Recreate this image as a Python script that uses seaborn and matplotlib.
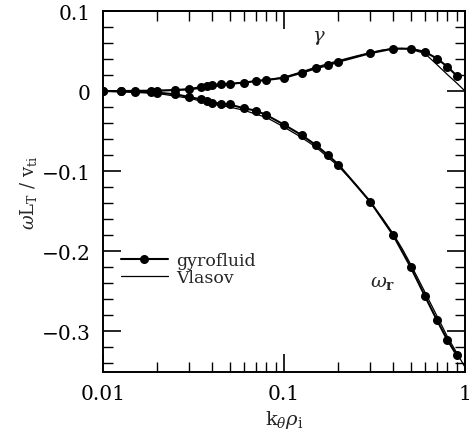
import matplotlib
matplotlib.use("Agg")
import matplotlib.pyplot as plt
import matplotlib.ticker as mticker
import numpy as np
import pandas as pd
import seaborn as sns

# Gyrofluid results (sampled wavenumbers)
k_gf = [0.01, 0.0125, 0.015, 0.0185, 0.02, 0.025, 0.03, 0.035, 0.0375, 0.04,
        0.045, 0.05, 0.06, 0.07, 0.08, 0.1, 0.125, 0.15, 0.175, 0.2,
        0.3, 0.4, 0.5, 0.6, 0.7, 0.8, 0.9]
gamma_gf = [0.0, 0.0, 0.0002, 0.0005, 0.0006, 0.0012, 0.0025, 0.005, 0.0063, 0.0075,
            0.0084, 0.0091, 0.0105, 0.0125, 0.0138, 0.0165, 0.0227, 0.0284, 0.0323, 0.0366,
            0.0473, 0.0529, 0.0529, 0.049, 0.0406, 0.0304, 0.0191]
omega_gf = [0.0, -0.0003, -0.0008, -0.0015, -0.002, -0.004, -0.0075, -0.0105, -0.013, -0.0145,
            -0.0158, -0.0168, -0.0215, -0.0245, -0.030, -0.042, -0.055, -0.0675, -0.080, -0.092,
            -0.1384, -0.1796, -0.2196, -0.2559, -0.2863, -0.3113, -0.330]

# Vlasov (kinetic) results
k_vl = [0.01, 0.02, 0.03, 0.04, 0.05, 0.06, 0.08, 0.1, 0.125, 0.15, 0.2, 0.25,
        0.3, 0.35, 0.4, 0.45, 0.5, 0.6, 0.7, 0.8, 0.9, 1.0]
gamma_vl = [0.0, 0.0003, 0.0018, 0.005, 0.0085, 0.0107, 0.0140, 0.0172, 0.0240, 0.0298,
            0.0380, 0.0437, 0.0480, 0.0513, 0.0530, 0.0533, 0.0522, 0.047, 0.033, 0.0205,
            0.010, 0.0]
omega_vl = [0.0, -0.003, -0.009, -0.016, -0.020, -0.024, -0.033, -0.045, -0.058, -0.070,
            -0.094, -0.117, -0.139, -0.159, -0.178, -0.197, -0.216, -0.251, -0.281, -0.307,
            -0.327, -0.345]

x_ticks = [0.01, 0.1, 1]
x_tick_labels = ["0.01", "0.1", "1"]
y_ticks = [-0.3, -0.2, -0.1, 0, 0.1]
y_tick_labels = ["\u22120.3", "\u22120.2", "\u22120.1", "0", "0.1"]

sns.set_theme(style="ticks")
plt.rcParams["font.family"] = ["DejaVu Serif"]
plt.rcParams["mathtext.fontset"] = "dejavuserif"

fig = plt.figure(figsize=(4.71, 4.39), dpi=100)
ax = fig.add_axes([103 / 471, 1 - 373 / 439, 362 / 471, 361 / 439])

gf = pd.DataFrame({"k": k_gf, "gamma": gamma_gf, "omega": omega_gf})
vl = pd.DataFrame({"k": k_vl, "gamma": gamma_vl, "omega": omega_vl})

for col in ["gamma", "omega"]:
    sns.lineplot(data=gf, x="k", y=col, ax=ax, color="black", lw=1.5,
                 marker="o", markersize=6.5, markeredgewidth=0, estimator=None,
                 sort=False, label="gyrofluid" if col == "gamma" else None)
    sns.lineplot(data=vl, x="k", y=col, ax=ax, color="black", lw=0.9,
                 estimator=None, sort=False,
                 label="Vlasov" if col == "gamma" else None)

ax.set_xscale("log")
ax.set_xlim(0.01, 1)
ax.set_ylim(-0.351, 0.1)
ax.set_xticks(x_ticks)
ax.set_xticklabels(x_tick_labels)
ax.xaxis.set_minor_locator(mticker.LogLocator(base=10, subs=np.arange(2, 10)))
ax.xaxis.set_minor_formatter(mticker.NullFormatter())
ax.set_yticks(y_ticks)
ax.set_yticklabels(y_tick_labels)
ax.yaxis.set_minor_locator(mticker.MultipleLocator(0.02))

ax.tick_params(which="both", direction="in", top=True, right=True,
               labelsize=14.5, color="black", labelcolor="black")
ax.tick_params(which="major", length=13, width=1.2, pad=9)
ax.tick_params(which="minor", length=7, width=1.0)
for s in ax.spines.values():
    s.set_linewidth(1.4)
    s.set_color("black")

ax.set_xlabel(r"$\mathrm{k}_{\theta}\rho_{\mathrm{i}}$", fontsize=14, labelpad=3)
ax.set_ylabel(r"$\omega\mathrm{L_T}\ /\ \mathrm{v_{ti}}$", fontsize=13, labelpad=2)

ax.text(0.155, 0.068, r"$\gamma$", fontsize=14, ha="center", va="center")
ax.text(0.35, -0.238, r"$\omega_{\mathbf{r}}$", fontsize=14, ha="center", va="center")

leg = ax.legend(loc="upper left", bbox_to_anchor=(0.02, 0.36), frameon=False,
                fontsize=12.5, handlelength=2.7, handletextpad=0.5,
                labelspacing=0.0, borderaxespad=0.2)

fig.savefig("out.png", dpi=100, facecolor="white")
